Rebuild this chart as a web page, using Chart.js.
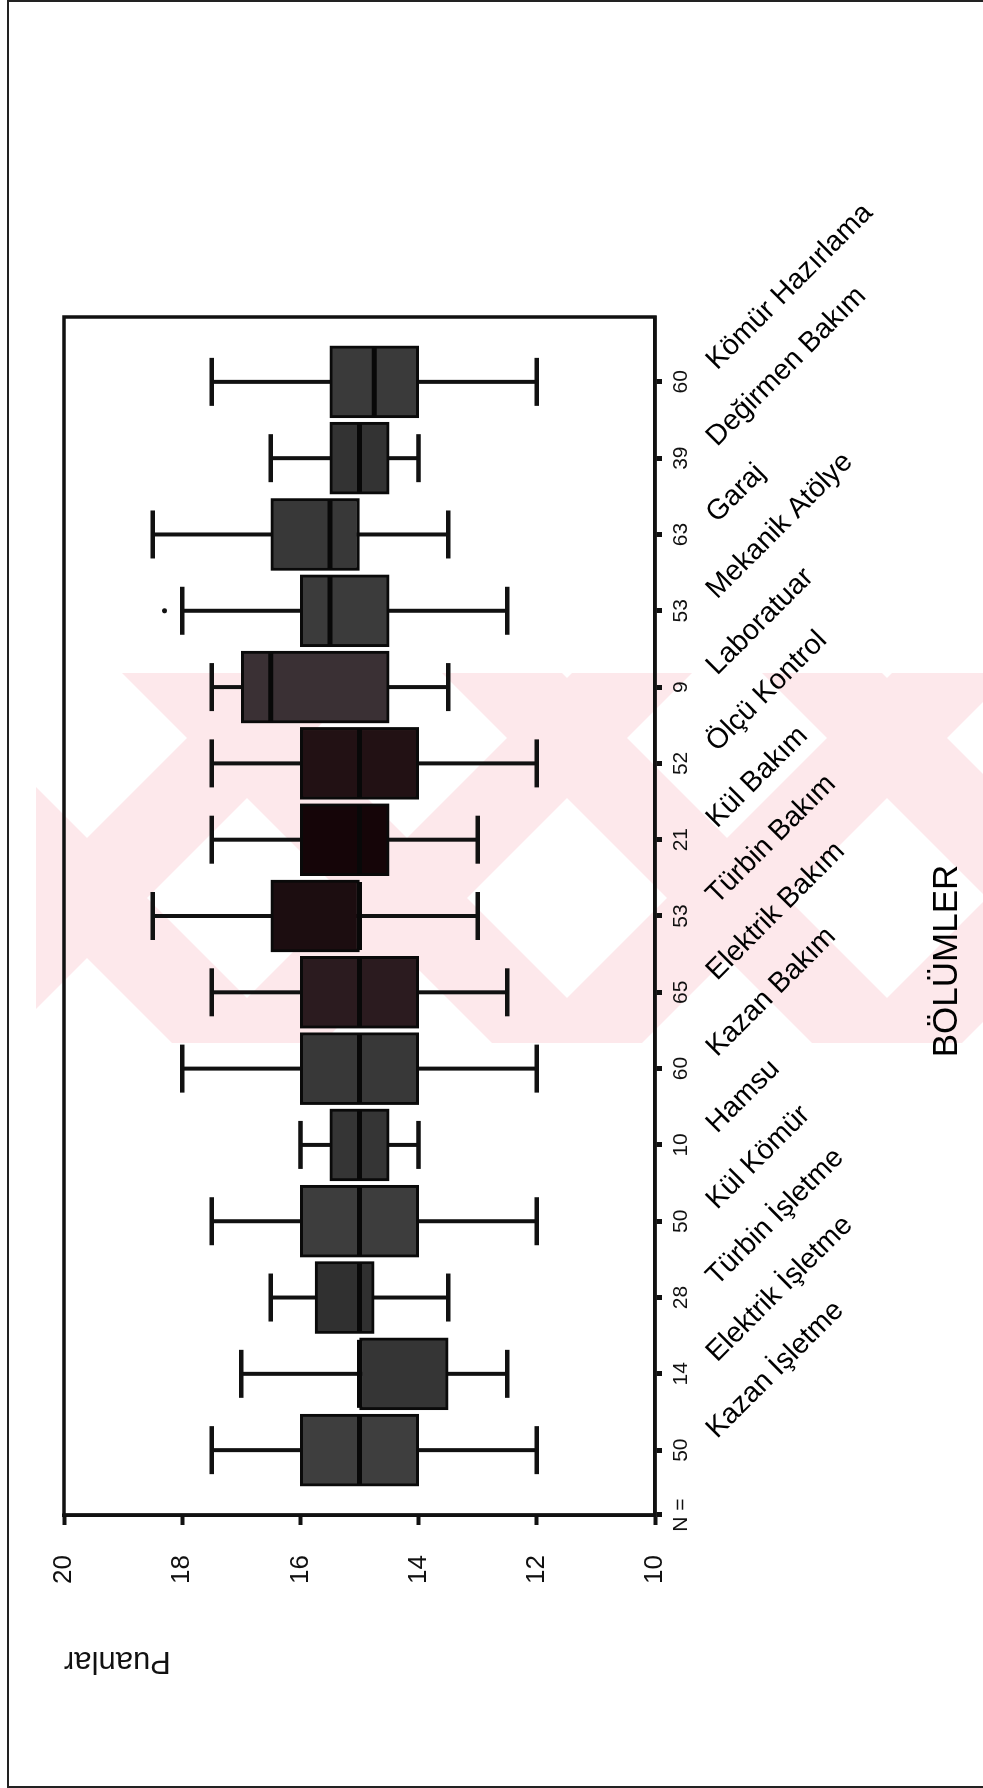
<!DOCTYPE html>
<html lang="tr">
<head>
<meta charset="utf-8">
<title>Bölümlere göre puanlar</title>
<script src="https://cdn.jsdelivr.net/npm/chart.js@4.4.1/dist/chart.umd.min.js"></script>
<style>
  html, body { margin: 0; padding: 0; background: #fff; }
  #sayfa {
    position: relative; height: 1788px; overflow: hidden;
    box-sizing: border-box;
    border-left: 2px solid #222; border-top: 2px solid #222; border-bottom: 2px solid #222;
    margin-left: 7px; width: 976px;
  }
  #filigran { position: absolute; left: -7px; top: -2px; }
  #grafik {
    position: absolute; left: -7px; top: -2px;
    transform-origin: 0 0;
    transform: translate(0, 1788px) rotate(-90deg);
  }
</style>
</head>
<body>
<div id="sayfa">
  <svg id="filigran" width="983" height="1788">
    <defs><clipPath id="alan"><rect x="34" y="673" width="949" height="370"/></clipPath></defs>
    <g clip-path="url(#alan)" fill="#fde8eb">
      <polygon points="-200,673 -80,673 290,1043 170,1043"/>
      <polygon points="120,673 240,673 610,1043 490,1043"/>
      <polygon points="440,673 560,673 930,1043 810,1043"/>
      <polygon points="760,673 880,673 1250,1043 1130,1043"/>
      <polygon points="250,673 370,673 0,1043 -120,1043"/>
      <polygon points="570,673 690,673 320,1043 200,1043"/>
      <polygon points="890,673 1010,673 640,1043 520,1043"/>
      <polygon points="1210,673 1330,673 960,1043 840,1043"/>
    </g>
  </svg>
  <canvas id="grafik" width="1788" height="983"></canvas>
</div>

<script>
// ==========================
// VERİLER (Puanlar, bölümlere göre)
// ==========================
const bolumler = ['Kazan İşletme', 'Elektrik İşletme', 'Türbin İşletme', 'Kül Kömür', 'Hamsu',
  'Kazan Bakım', 'Elektrik Bakım', 'Türbin Bakım', 'Kül Bakım', 'Ölçü Kontrol',
  'Laboratuar', 'Mekanik Atölye', 'Garaj', 'Değirmen Bakım', 'Kömür Hazırlama'];
const nDegerleri = [50, 14, 28, 50, 10, 60, 65, 53, 21, 52, 9, 53, 63, 39, 60];

const enBuyuk  = [17.5, 17, 16.5, 17.5, 16, 18, 17.5, 18.5, 17.5, 17.5, 17.5, 18, 18.5, 16.5, 17.5];
const ucuncuQ  = [16, 15, 15.75, 16, 15.5, 16, 16, 16.5, 16, 16, 17, 16, 16.5, 15.5, 15.5];
const medyan   = [15, 15, 15, 15, 15, 15, 15, 15, 15, 15, 16.5, 15.5, 15.5, 15, 14.75];
const birinciQ = [14, 13.5, 14.75, 14, 14.5, 14, 14, 15, 14.5, 14, 14.5, 14.5, 15, 14.5, 14];
const enKucuk  = [12, 12.5, 13.5, 12, 14, 12, 12.5, 13, 13, 12, 13.5, 12.5, 13.5, 14, 12];

const aykiriBolum = [11];
const aykiriDeger = [18.3];

const puanTikleri = [20, 18, 16, 14, 12, 10];

// filigranın kutuları koyulaştırması
const kutuRenkleri = ['#3e3e3e', '#353535', '#303030', '#3d3d3d', '#353535',
  '#383838', '#2b1b1f', '#1c0d10', '#150508', '#221114',
  '#3a3034', '#3b3b3b', '#383838', '#333333', '#3a3a3a'];

const YAZI = "'Liberation Sans', Arial, sans-serif";
const DAR = "'Liberation Sans Narrow', 'Arial Narrow', 'Liberation Sans', sans-serif";

// ==========================
// KUTU GRAFİĞİ EKLERİ
// ==========================
const kutuEkleri = {
  id: 'kutuEkleri',
  beforeDatasetsDraw(chart) {
    const { ctx, scales: { x, y } } = chart;
    ctx.save();
    ctx.strokeStyle = '#111';
    ctx.lineCap = 'butt';
    bolumler.forEach((_, i) => {
      const px = x.getPixelForValue(i);
      const yUst = y.getPixelForValue(enBuyuk[i]);
      const yAlt = y.getPixelForValue(enKucuk[i]);
      ctx.lineWidth = 4;
      ctx.beginPath();
      ctx.moveTo(px, yUst); ctx.lineTo(px, yAlt);
      ctx.stroke();
      ctx.lineWidth = 4.5;
      ctx.beginPath();
      ctx.moveTo(px - 24, yUst); ctx.lineTo(px + 24, yUst);
      ctx.moveTo(px - 24, yAlt); ctx.lineTo(px + 24, yAlt);
      ctx.stroke();
    });
    ctx.restore();
  },
  afterDatasetsDraw(chart) {
    const { ctx, chartArea: a, scales: { x, y } } = chart;
    ctx.save();
    ctx.strokeStyle = '#080808';
    ctx.lineWidth = 5;
    bolumler.forEach((_, i) => {
      const px = x.getPixelForValue(i);
      const py = y.getPixelForValue(medyan[i]);
      ctx.beginPath();
      ctx.moveTo(px - 34, py); ctx.lineTo(px + 34, py);
      ctx.stroke();
    });
    // çerçeve
    ctx.strokeStyle = '#111';
    ctx.lineWidth = 3.5;
    ctx.strokeRect(a.left, a.top, a.right - a.left, a.bottom - a.top);
    ctx.restore();
  },
  afterDraw(chart) {
    const { ctx, chartArea: a, scales: { x } } = chart;
    ctx.save();
    ctx.fillStyle = '#000';
    ctx.font = '28.5px ' + YAZI;
    ctx.textAlign = 'left';
    ctx.textBaseline = 'alphabetic';
    bolumler.forEach((ad, i) => {
      const px = x.getPixelForValue(i);
      ctx.save();
      ctx.translate(px + 11, a.bottom + 62);
      ctx.rotate(Math.PI / 4);
      ctx.fillText(ad, 0, 0);
      ctx.restore();
    });
    ctx.font = '35px ' + YAZI;
    ctx.textAlign = 'center';
    ctx.textBaseline = 'middle';
    ctx.fillText('BÖLÜMLER', (a.left + a.right) / 2 - 45, a.bottom + 292);
    ctx.restore();
  }
};

// ==========================
// GRAFİK
// ==========================
new Chart(document.getElementById('grafik'), {
  type: 'bar',
  data: {
    datasets: [{
      label: 'Puanlar',
      data: bolumler.map((_, i) => ({ x: i, y: [birinciQ[i], ucuncuQ[i]] })),
      backgroundColor: kutuRenkleri,
      borderColor: '#0a0a0a',
      borderWidth: 3,
      borderSkipped: false,
      barThickness: 72
    }, {
      type: 'scatter',
      label: 'Aykırı',
      data: aykiriBolum.map((b, i) => ({ x: b, y: aykiriDeger[i] })),
      pointRadius: 2.5,
      pointBackgroundColor: '#111',
      pointBorderWidth: 0
    }]
  },
  options: {
    responsive: false,
    devicePixelRatio: 1,
    animation: false,
    layout: { padding: { left: 0, top: 62, right: 317, bottom: 0 } },
    plugins: { legend: { display: false }, tooltip: { enabled: false } },
    scales: {
      x: {
        type: 'linear',
        min: -0.85,
        max: 14.85,
        offset: false,
        afterBuildTicks: s => { s.ticks = [-0.85, ...bolumler.map((_, i) => i)].map(v => ({ value: v })); },
        afterFit: s => { s.height = 330; },
        ticks: {
          autoSkip: false, maxRotation: 0, minRotation: 0,
          padding: 7,
          color: '#111',
          font: { family: DAR, size: 21 },
          callback: v => Number.isInteger(v) ? String(nDegerleri[v]) : 'N ='
        },
        grid: { offset: false, drawOnChartArea: false, drawTicks: true, tickLength: 7, tickWidth: 5, tickColor: '#111' },
        border: { display: true, width: 3.5, color: '#111' }
      },
      y: {
        min: 10,
        max: 20,
        afterBuildTicks: s => { s.ticks = puanTikleri.map(v => ({ value: v })); },
        afterFit: s => { s.width = 273; },
        ticks: { padding: 30, color: '#111', font: { family: YAZI, size: 26 } },
        grid: { drawOnChartArea: false, drawTicks: true, tickLength: 10, tickWidth: 4, tickColor: '#111' },
        border: { display: true, width: 3.5, color: '#111' },
        title: {
          display: true, text: 'Puanlar', align: 'end', color: '#111',
          font: { family: YAZI, size: 31 },
          padding: { top: 109, bottom: 0 }
        }
      }
    }
  },
  plugins: [kutuEkleri]
});
</script>
</body>
</html>
